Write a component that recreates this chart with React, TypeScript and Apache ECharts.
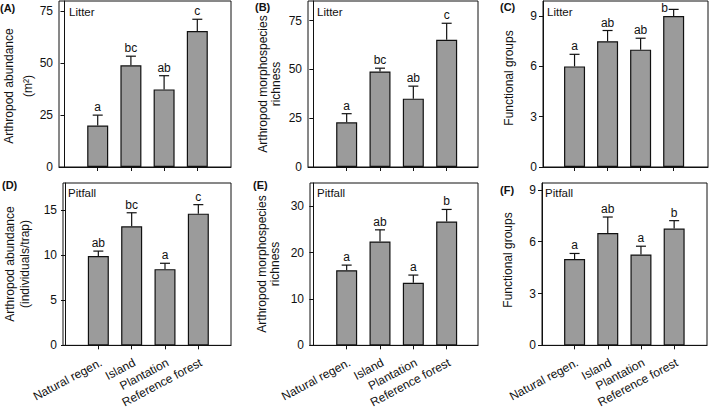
import React, { useEffect, useRef } from "react";
import * as echarts from "echarts";

const categories = ["Natural regen.", "Island", "Plantation", "Reference forest"];

// (A) Litter – arthropod abundance (m2)
const litterAbundance = [20, 49, 37.4, 65.5];
const litterAbundanceSE = [5, 4.4, 6.6, 5.7];
const litterAbundanceLetters = ["a", "bc", "ab", "c"];
const litterAbundanceTicks = [0, 25, 50, 75];

// (B) Litter – morphospecies richness
const litterRichness = [22.9, 48.9, 35, 65.1];
const litterRichnessSE = [4.4, 1.7, 6.4, 8.5];
const litterRichnessLetters = ["a", "bc", "ab", "c"];
const litterRichnessTicks = [0, 25, 50, 75];

// (C) Litter – functional groups
const litterGroups = [6.0, 7.5, 7.0, 9.0];
const litterGroupsSE = [0.72, 0.64, 0.68, 0.4];
const litterGroupsLetters = ["a", "ab", "ab", "b"];
const litterGroupsTicks = [0, 3, 6, 9];

// (D) Pitfall – abundance (individuals/trap)
const pitfallAbundance = [9.9, 13.2, 8.45, 14.6];
const pitfallAbundanceSE = [0.55, 1.5, 0.65, 1.0];
const pitfallAbundanceLetters = ["ab", "bc", "a", "c"];
const pitfallAbundanceTicks = [0, 5, 10, 15];

// (E) Pitfall – morphospecies richness
const pitfallRichness = [16.2, 22.4, 13.5, 26.7];
const pitfallRichnessSE = [1.1, 2.5, 1.65, 2.6];
const pitfallRichnessLetters = ["a", "ab", "a", "b"];
const pitfallRichnessTicks = [0, 10, 20, 30];

// (F) Pitfall – functional groups
const pitfallGroups = [5.0, 6.5, 5.26, 6.76];
const pitfallGroupsSE = [0.32, 0.93, 0.48, 0.46];
const pitfallGroupsLetters = ["a", "ab", "a", "b"];
const pitfallGroupsTicks = [0, 3, 6, 9];

const FONT = "Liberation Sans, Arial, Helvetica, sans-serif";
const INK = "#111111";

type Panel = {
  tag: string;
  habitat: string;
  titles: string[];
  titleX: number[];
  titleY: number;
  means: number[];
  se: number[];
  letters: string[];
  ticks: number[];
  yMax: number;
  xMin: number;
  xMax: number;
  left: number;
  right: number;
  top: number;
  bottom: number;
  showCats: boolean;
  tagX: number;
  tagY: number;
  habX: number;
  habY: number;
};

const panels: Panel[] = [
  {
    tag: "(A)", habitat: "Litter", titles: ["Arthropod abundance", "(m\u00B2)"], titleX: [8.5, 27.5], titleY: 86,
    means: litterAbundance, se: litterAbundanceSE, letters: litterAbundanceLetters, ticks: litterAbundanceTicks,
    yMax: 80, xMin: -0.166, xMax: 5.015, left: 59, right: 231, top: 1, bottom: 167, showCats: false,
    tagX: 0, tagY: 8, habX: 69, habY: 12,
  },
  {
    tag: "(B)", habitat: "Litter", titles: ["Arthropod morphospecies", "richness"], titleX: [263, 276], titleY: 84,
    means: litterRichness, se: litterRichnessSE, letters: litterRichnessLetters, ticks: litterRichnessTicks,
    yMax: 85, xMin: -0.16, xMax: 4.94, left: 308, right: 478, top: 1, bottom: 167, showCats: false,
    tagX: 255, tagY: 7, habX: 317, habY: 12,
  },
  {
    tag: "(C)", habitat: "Litter", titles: ["Functional groups"], titleX: [509], titleY: 78,
    means: litterGroups, se: litterGroupsSE, letters: litterGroupsLetters, ticks: litterGroupsTicks,
    yMax: 9.9, xMin: 0.045, xMax: 5.04, left: 543, right: 708, top: 1, bottom: 167, showCats: false,
    tagX: 500, tagY: 7, habX: 547, habY: 12,
  },
  {
    tag: "(D)", habitat: "Pitfall", titles: ["Arthropod abundance", "(individuals/trap)"], titleX: [10, 25], titleY: 264,
    means: pitfallAbundance, se: pitfallAbundanceSE, letters: pitfallAbundanceLetters, ticks: pitfallAbundanceTicks,
    yMax: 18, xMin: -0.06, xMax: 4.98, left: 63, right: 231, top: 183, bottom: 349, showCats: true,
    tagX: 2, tagY: 185, habX: 68, habY: 193,
  },
  {
    tag: "(E)", habitat: "Pitfall", titles: ["Arthropod morphospecies", "richness"], titleX: [262, 275], titleY: 264,
    means: pitfallRichness, se: pitfallRichnessSE, letters: pitfallRichnessLetters, ticks: pitfallRichnessTicks,
    yMax: 35, xMin: -0.1, xMax: 4.94, left: 310, right: 478, top: 183, bottom: 349, showCats: true,
    tagX: 253, tagY: 185, habX: 317, habY: 193,
  },
  {
    tag: "(F)", habitat: "Pitfall", titles: ["Functional groups"], titleX: [508], titleY: 260,
    means: pitfallGroups, se: pitfallGroupsSE, letters: pitfallGroupsLetters, ticks: pitfallGroupsTicks,
    yMax: 9.4, xMin: 0.018, xMax: 4.99, left: 542, right: 707, top: 183, bottom: 349, showCats: true,
    tagX: 500, tagY: 190, habX: 545, habY: 193,
  },
];

function buildOption() {
  const grid: any[] = [];
  const xAxis: any[] = [];
  const yAxis: any[] = [];
  const series: any[] = [];
  const graphic: any[] = [];

  panels.forEach((p, i) => {
    grid.push({
      left: p.left,
      top: p.top,
      width: p.right - p.left,
      height: p.bottom - p.top,
      show: true,
      borderColor: INK,
      borderWidth: 1,
      backgroundColor: "transparent",
    });
    xAxis.push({
      type: "value",
      gridIndex: i,
      min: p.xMin,
      max: p.xMax,
      splitLine: { show: false },
      axisLine: { show: true, lineStyle: { color: INK, width: 1 } },
      axisTick: { show: true, customValues: [1, 2, 3, 4], length: 4, lineStyle: { color: INK } },
      axisLabel: p.showCats
        ? {
            show: true,
            customValues: [1, 2, 3, 4],
            formatter: (v: number) => categories[Math.round(v) - 1] ?? "",
            rotate: 28,
            margin: 11,
            verticalAlign: "top",
            align: "right",
            fontSize: 12,
            fontFamily: FONT,
            color: INK,
          }
        : { show: false },
    });
    yAxis.push({
      type: "value",
      gridIndex: i,
      min: 0,
      max: p.yMax,
      splitLine: { show: false },
      axisLine: { show: true, lineStyle: { color: INK, width: 1 } },
      axisTick: { show: true, customValues: p.ticks, length: 4, lineStyle: { color: INK } },
      axisLabel: {
        show: true,
        customValues: p.ticks,
        margin: 6,
        fontSize: 12,
        fontFamily: FONT,
        color: INK,
      },
    });
    series.push({
      type: "bar",
      xAxisIndex: i,
      yAxisIndex: i,
      barWidth: 21,
      data: p.means.map((m, k) => [k + 1, m]),
      itemStyle: { color: "#9b9b9b", borderColor: INK, borderWidth: 1.2 },
      silent: true,
    });
    const gridTop = p.top;
    series.push({
      type: "custom",
      xAxisIndex: i,
      yAxisIndex: i,
      clip: false,
      silent: true,
      color: INK,
      itemStyle: { color: INK },
      encode: { x: 0, y: [1, 2] },
      data: p.means.map((m, k) => [k + 1, m, m + p.se[k], k]),
      renderItem: (_params: any, api: any) => {
        const x = api.value(0);
        const a = api.coord([x, api.value(1)]);
        const c = api.coord([x, api.value(2)]);
        const idx = api.value(3);
        const lineStyle = { stroke: INK, lineWidth: 1.2 };
        const tooHigh = c[1] - 16 < gridTop;
        return {
          type: "group",
          children: [
            { type: "line", shape: { x1: a[0], y1: a[1], x2: c[0], y2: c[1] }, style: lineStyle },
            { type: "line", shape: { x1: c[0] - 5, y1: c[1], x2: c[0] + 5, y2: c[1] }, style: lineStyle },
            {
              type: "text",
              style: {
                text: p.letters[idx],
                x: tooHigh ? c[0] - 9 : c[0],
                y: tooHigh ? c[1] + 5 : c[1] - 2,
                textAlign: "center",
                textVerticalAlign: "bottom",
                fontSize: 12,
                fontFamily: FONT,
                fill: INK,
              },
            },
          ],
        };
      },
    });

    // axis titles
    p.titles.forEach((t, j) => {
      graphic.push({
        type: "text",
        x: p.titleX[j],
        y: p.titleY,
        rotation: Math.PI / 2,
        silent: true,
        style: {
          text: t,
          textAlign: "center",
          textVerticalAlign: "middle",
          fontSize: 12,
          fontFamily: FONT,
          fill: INK,
        },
      });
    });
    // panel tag
    graphic.push({
      type: "text",
      x: p.tagX,
      y: p.tagY,
      silent: true,
      style: {
        text: p.tag,
        textAlign: "left",
        textVerticalAlign: "middle",
        fontSize: 11,
        fontWeight: "bold",
        fontFamily: FONT,
        fill: INK,
      },
    });
    // habitat label
    graphic.push({
      type: "text",
      x: p.habX,
      y: p.habY,
      silent: true,
      style: {
        text: p.habitat,
        textAlign: "left",
        textVerticalAlign: "middle",
        fontSize: 11.5,
        fontFamily: FONT,
        fill: INK,
      },
    });
  });

  return {
    animation: false,
    backgroundColor: "#fff",
    textStyle: { fontFamily: FONT },
    grid,
    xAxis,
    yAxis,
    series,
    graphic,
  };
}

export default function App() {
  const ref = useRef<HTMLDivElement>(null);
  useEffect(() => {
    if (!ref.current) return;
    const chart = echarts.init(ref.current, undefined, { renderer: "svg" });
    chart.setOption(buildOption() as any);
    return () => chart.dispose();
  }, []);
  return (
    <div
      ref={ref}
      style={{ position: "fixed", left: 0, top: 0, width: 709, height: 410, background: "#fff" }}
    />
  );
}
